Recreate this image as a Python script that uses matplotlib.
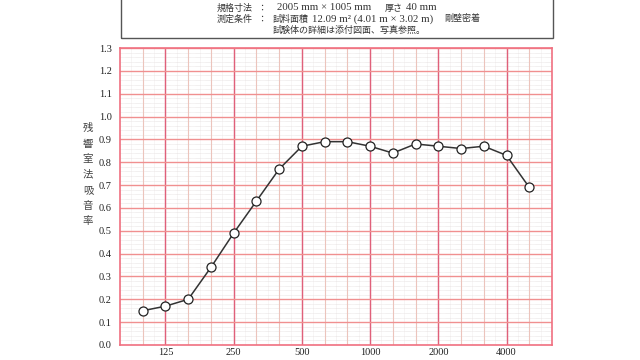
import matplotlib.pyplot as plt
from matplotlib.patches import Rectangle
import numpy as np

# 1/3 octave band centres and measured absorption coefficients
bands = ['100', '125', '160', '200', '250', '315', '400', '500', '630', '800',
         '1000', '1250', '1600', '2000', '2500', '3150', '4000', '5000']
alpha = [0.15, 0.17, 0.20, 0.34, 0.49, 0.63, 0.77, 0.87, 0.89, 0.89,
         0.87, 0.84, 0.88, 0.87, 0.86, 0.87, 0.83, 0.69]
label_bands = ['125', '250', '500', '1000', '2000', '4000']
y_ticks = [round(0.1 * i, 1) for i in range(14)]

jp = ['Noto Sans CJK JP', 'DejaVu Sans']
serif = ['Liberation Serif', 'DejaVu Serif']

fig = plt.figure(figsize=(6.4, 3.6), dpi=100)
ax = fig.add_axes([120 / 640, 1 - 345 / 360, 432 / 640, 297 / 360])

x = np.arange(len(bands))
ax.set_xlim(-1, len(bands))
ax.set_ylim(0, 1.3)

# fine dotted paper grid
for yv in np.arange(0.02, 1.3, 0.02):
    ax.axhline(yv, color='#d8d0d0', lw=0.4, ls=(0, (1, 1)), zorder=0)
for xv in np.arange(-1, len(bands), 0.5):
    ax.axvline(xv, color='#e4dcdc', lw=0.4, ls=(0, (1, 1)), zorder=0)

# band lines
for xv in x:
    ax.axvline(xv, color='#ecc4bc', lw=0.8, zorder=1)
major_idx = [bands.index(b) for b in label_bands]
for xv in major_idx:
    ax.axvline(xv, color='#e0607a', lw=1.0, zorder=1)
for yv in y_ticks[1:]:
    ax.axhline(yv, color='#f09090', lw=1.0, zorder=1)

ax.plot(x, alpha, color='#333333', lw=1.1, marker='o', ms=6.5,
        mfc='white', mec='#222222', mew=0.9, zorder=3)

for s in ax.spines.values():
    s.set_color('#f07080')
    s.set_linewidth(1.2)

ax.set_xticks(major_idx)
ax.set_xticklabels(label_bands, family=serif, fontsize=7.5, color='#222222')
ax.set_yticks(y_ticks)
ax.set_yticklabels([f'{v:.1f}' for v in y_ticks], family=serif, fontsize=7.5, color='#222222')
ax.tick_params(axis='y', length=0, pad=6)
ax.tick_params(axis='x', length=0, pad=2)

# vertical y-axis label
ylab = '残響室法吸音率'
for i, ch in enumerate(ylab):
    fig.text(88 / 640, 1 - (128 + i * 15.5) / 360, ch, family=jp, fontsize=7.5,
             color='#444444', ha='center', va='center')

# header box
fig.patches.append(Rectangle((121 / 640, 1 - 38 / 360), 432 / 640, 0.2,
                             transform=fig.transFigure, fill=False,
                             ec='#555555', lw=1.0))

def hdr(px, py, s, fam):
    size = 6.5 if fam is jp else 7.8
    fig.text(px / 640, 1 - py / 360, s, family=fam, fontsize=size,
             color='#333333', va='center')

hdr(217, 8, '規格寸法', jp)
hdr(257, 8, '：', jp)
hdr(277, 8, '2005 mm × 1005 mm', serif)
hdr(385, 8, '厚さ', jp)
hdr(406, 8, '40 mm', serif)
hdr(217, 19, '測定条件', jp)
hdr(257, 19, '：', jp)
hdr(273, 19, '試料面積', jp)
hdr(312, 19, '12.09 m² (4.01 m × 3.02 m)', serif)
hdr(444, 19, '剛壁密着', jp)
hdr(273, 30, '試験体の詳細は添付図面、写真参照。', jp)

fig.savefig('out.png', dpi=100)
